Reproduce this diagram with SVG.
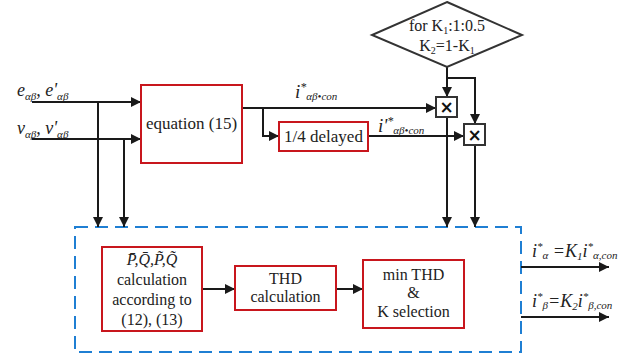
<svg xmlns="http://www.w3.org/2000/svg" width="641" height="362" viewBox="0 0 641 362">
<style>
text{font-family:"Liberation Serif","DejaVu Serif",Tinos,serif}
.blk{fill:#fff;stroke:#c8161d;stroke-width:2}
.mul{fill:#fff;stroke:#333;stroke-width:2}
.ln{fill:none;stroke:#1a1a1a;stroke-width:2}
.t{fill:#222;text-anchor:middle}
.it{font-style:italic;fill:#222}
.sub{font-size:11px}
text.x{fill:#111;font-family:"DejaVu Sans",sans-serif;font-weight:bold;text-anchor:middle}
</style>
<defs>
<marker id="ah" viewBox="0 0 10 10" refX="10" refY="5" markerWidth="5" markerHeight="5" orient="auto" markerUnits="strokeWidth">
<path d="M0,0 L10,5 L0,10 z" fill="#1a1a1a"/>
</marker>
</defs>
<rect id="dashed-box" x="75" y="227" width="446" height="125" fill="none" stroke="#1f7fd3" stroke-width="2" stroke-dasharray="13,7"/>
<g id="connectors">
<path class="ln" d="M32,102 H141" marker-end="url(#ah)"/>
<path class="ln" d="M32,139 H141" marker-end="url(#ah)"/>
<path class="ln" d="M98,102 V227" marker-end="url(#ah)"/>
<path class="ln" d="M124,139 V227" marker-end="url(#ah)"/>
<path class="ln" d="M242,108 H436" marker-end="url(#ah)"/>
<path class="ln" d="M263,108 V136 H279" marker-end="url(#ah)"/>
<path class="ln" d="M368,136 H464" marker-end="url(#ah)"/>
<path class="ln" d="M447,67 V97" marker-end="url(#ah)"/>
<path class="ln" d="M447,78 H475 V124" marker-end="url(#ah)"/>
<path class="ln" d="M447,117 V227" marker-end="url(#ah)"/>
<path class="ln" d="M475,145 V227" marker-end="url(#ah)"/>
<path class="ln" d="M202,289 H235" marker-end="url(#ah)"/>
<path class="ln" d="M336,289 H363" marker-end="url(#ah)"/>
<path class="ln" d="M521,267 H609" marker-end="url(#ah)"/>
<path class="ln" d="M521,317 H609" marker-end="url(#ah)"/>
</g>
<g id="input-labels">
<text class="it" x="17" y="96" font-size="18">e<tspan class="sub" dy="4">αβ</tspan><tspan dy="-4">, e'</tspan><tspan class="sub" dy="4">αβ</tspan></text>
<text class="it" x="17" y="134" font-size="18">v<tspan class="sub" dy="4">αβ</tspan><tspan dy="-4">, v'</tspan><tspan class="sub" dy="4">αβ</tspan></text>
</g>
<g id="equation">
<rect class="blk" x="141" y="85" width="101" height="78"/>
<text class="t" x="191.5" y="129" font-size="17">equation (15)</text>
</g>
<g id="delay">
<rect class="blk" x="279" y="122" width="89" height="29"/>
<text class="t" x="323.5" y="142" font-size="17">1/4 delayed</text>
</g>
<g id="signal-labels">
<text class="it" x="295" y="98" font-size="19">i<tspan font-size="12" dy="-7">*</tspan><tspan class="sub" dy="9">αβ•con</tspan></text>
<text class="it" x="378" y="132" font-size="19">i'<tspan font-size="12" dy="-7">*</tspan><tspan class="sub" dy="9">αβ•con</tspan></text>
</g>
<g id="diamond">
<polygon points="447,2 522,35 447,67 372,35" fill="#fff" stroke="#333" stroke-width="2"/>
<text class="t" x="447" y="31" font-size="16">for K<tspan font-size="10" dy="3">1</tspan><tspan dy="-3">:1:0.5</tspan></text>
<text class="t" x="447" y="51" font-size="16">K<tspan font-size="10" dy="3">2</tspan><tspan dy="-3">=1-K</tspan><tspan font-size="10" dy="3">1</tspan></text>
</g>
<g id="mult1">
<rect class="mul" x="436" y="97" width="21" height="20"/>
<text class="x" x="446.5" y="113" font-size="17">×</text>
</g>
<g id="mult2">
<rect class="mul" x="464" y="124" width="21" height="21"/>
<text class="x" x="474.5" y="140.5" font-size="17">×</text>
</g>
<g id="pq-calc">
<rect class="blk" x="102" y="247" width="100" height="84"/>
<text class="it" x="152" y="265" font-size="16" text-anchor="middle">P̄,Q̄,P̃,Q̃</text>
<text class="t" x="152" y="285" font-size="16">calculation</text>
<text class="t" x="152" y="305" font-size="16">according to</text>
<text class="t" x="152" y="325" font-size="16">(12), (13)</text>
</g>
<g id="thd-calc">
<rect class="blk" x="235" y="266" width="101" height="44"/>
<text class="t" x="285.5" y="284" font-size="16">THD</text>
<text class="t" x="285.5" y="302" font-size="16">calculation</text>
</g>
<g id="k-select">
<rect class="blk" x="363" y="260" width="101" height="68"/>
<text class="t" x="413.5" y="280" font-size="16">min THD</text>
<text class="t" x="413.5" y="298" font-size="16">&amp;</text>
<text class="t" x="413.5" y="317" font-size="16">K selection</text>
</g>
<g id="output-labels">
<text class="it" x="532" y="257" font-size="18">i<tspan font-size="11" dy="-7">*</tspan><tspan class="sub" dy="9">α</tspan><tspan dy="-2"> =K</tspan><tspan class="sub" dy="3">1</tspan><tspan dy="-3">i</tspan><tspan font-size="11" dy="-7">*</tspan><tspan class="sub" dy="9">α,con</tspan></text>
<text class="it" x="532" y="307" font-size="18">i<tspan font-size="11" dy="-7">*</tspan><tspan class="sub" dy="9">β</tspan><tspan dy="-2">=K</tspan><tspan class="sub" dy="3">2</tspan><tspan dy="-3">i</tspan><tspan font-size="11" dy="-7">*</tspan><tspan class="sub" dy="9">β,con</tspan></text>
</g>
</svg>
